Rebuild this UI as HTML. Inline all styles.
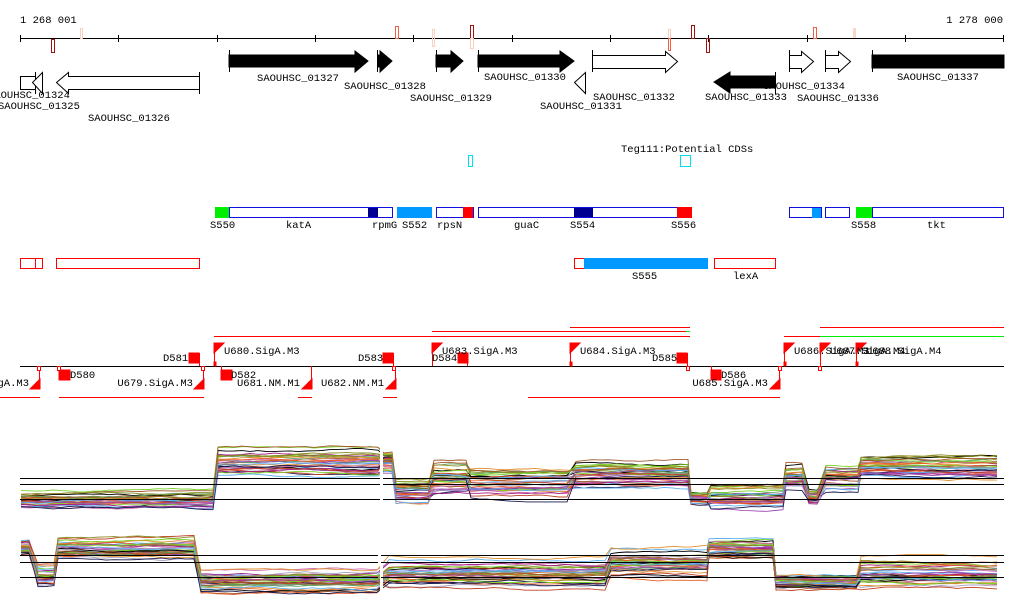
<!DOCTYPE html>
<html><head><meta charset="utf-8"><style>
html,body{margin:0;padding:0;background:#fff;}
svg{display:block;}
text{font-family:"Liberation Mono","DejaVu Sans Mono",monospace;font-size:10.5px;fill:#000;}
</style></head><body>
<svg id="s" width="1024" height="611" viewBox="0 0 1024 611" xmlns="http://www.w3.org/2000/svg">
<text x="20" y="23">1 268 001</text>
<text x="1003" y="23" text-anchor="end">1 278 000</text>
<line x1="20" y1="38.5" x2="1004" y2="38.5" stroke="#000"/>
<g stroke="#000">
<line x1="20.5" y1="35" x2="20.5" y2="42"/><line x1="118.5" y1="35" x2="118.5" y2="42"/><line x1="217.5" y1="35" x2="217.5" y2="42"/><line x1="315.5" y1="35" x2="315.5" y2="42"/><line x1="413.5" y1="35" x2="413.5" y2="42"/><line x1="512.5" y1="35" x2="512.5" y2="42"/><line x1="610.5" y1="35" x2="610.5" y2="42"/><line x1="708.5" y1="35" x2="708.5" y2="42"/><line x1="807.5" y1="35" x2="807.5" y2="42"/><line x1="905.5" y1="35" x2="905.5" y2="42"/><line x1="1003.5" y1="35" x2="1003.5" y2="42"/>
</g>
<g fill="none">
<rect x="51.5" y="39.5" width="3" height="13" stroke="#a01010"/>
<rect x="80.5" y="28.5" width="2" height="10" stroke="#f8d0c0"/>
<rect x="395.5" y="26.5" width="3" height="12" stroke="#f06040"/>
<rect x="432.5" y="29.5" width="2" height="17" stroke="#f8d0c0"/>
<rect x="470.5" y="25.5" width="3" height="13" stroke="#a01010"/>
<rect x="470.5" y="38.5" width="3" height="10" stroke="#f8d0c0"/>
<rect x="668.5" y="29.5" width="2" height="9" stroke="#f8d0c0"/>
<rect x="668.5" y="38.5" width="2" height="12" stroke="#f06040"/>
<rect x="691.5" y="25.5" width="3" height="13" stroke="#a01010"/>
<rect x="706.5" y="38.5" width="3" height="14" stroke="#a01010"/>
<rect x="813.5" y="27.5" width="3" height="11" stroke="#f06040"/>
<rect x="853" y="28" width="3" height="10" fill="#f8d8c8"/>
</g>
<g stroke="#000" fill="#000">
<line x1="229.5" y1="50" x2="229.5" y2="72"/>
<polygon points="229,55 355,55 355,51 368,61 355,72 355,67 229,67"/>
<line x1="377.5" y1="50" x2="377.5" y2="72"/>
<polygon points="378,55 380,55 380,51 392,61 380,72 380,67 378,67"/>
<line x1="436.5" y1="50" x2="436.5" y2="72"/>
<polygon points="436,55 451,55 451,51 463,61 451,72 451,67 436,67"/>
<line x1="478.5" y1="50" x2="478.5" y2="72"/>
<polygon points="478,55 560,55 560,51 574,61 560,72 560,67 478,67"/>
<line x1="872.5" y1="50" x2="872.5" y2="72"/>
<rect x="872" y="55" width="132" height="13"/>
</g>
<g stroke="#000" fill="#fff">
<polygon points="585.5,72.5 574.5,82.5 585.5,93.5"/>
<line x1="592.5" y1="50" x2="592.5" y2="72"/>
<polygon points="592.5,55.5 665.5,55.5 665.5,51.5 677.5,61.5 665.5,72.5 665.5,68.5 592.5,68.5"/>
<line x1="789.5" y1="50" x2="789.5" y2="72"/>
<polygon points="789.5,55.5 801.5,55.5 801.5,51.5 813.5,61.5 801.5,72.5 801.5,68.5 789.5,68.5"/>
<line x1="825.5" y1="50" x2="825.5" y2="72"/>
<polygon points="825.5,55.5 838.5,55.5 838.5,51.5 850.5,61.5 838.5,72.5 838.5,68.5 825.5,68.5"/>
<rect x="20.5" y="76.5" width="15" height="13"/>
<line x1="35.5" y1="72" x2="35.5" y2="94"/>
<polygon points="42.5,72.5 32.5,82.5 42.5,93.5"/>
<line x1="199.5" y1="72" x2="199.5" y2="94"/>
<polygon points="199.5,76.5 68.5,76.5 68.5,72.5 56.5,82.5 68.5,93.5 68.5,89.5 199.5,89.5"/>
</g>
<text x="298" y="81" text-anchor="middle">SAOUHSC_01327</text>
<text x="344" y="89">SAOUHSC_01328</text>
<text x="410" y="101">SAOUHSC_01329</text>
<text x="484" y="80">SAOUHSC_01330</text>
<text x="540" y="109">SAOUHSC_01331</text>
<text x="593" y="100">SAOUHSC_01332</text>
<text x="763" y="89">SAOUHSC_01334</text>
<text x="797" y="101">SAOUHSC_01336</text>
<text x="897" y="80">SAOUHSC_01337</text>
<text x="705" y="100">SAOUHSC_01333</text>
<text x="-12" y="98">SAOUHSC_01324</text>
<text x="-2" y="109">SAOUHSC_01325</text>
<text x="88" y="121">SAOUHSC_01326</text>
<g stroke="#000" fill="#000">
<line x1="775.5" y1="72" x2="775.5" y2="94"/>
<polygon points="775,76 730,76 730,72 714,82 730,93 730,88 775,88"/>
</g>
<text x="621" y="152">Teg111:Potential CDSs</text>
<rect x="468.5" y="155.5" width="4" height="11" fill="none" stroke="#00e0f0"/>
<rect x="680.5" y="155.5" width="10" height="11" fill="none" stroke="#00e0f0"/>
<g stroke="#1010e0" fill="#fff">
<rect x="229.5" y="207.5" width="163" height="10"/>
<rect x="436.5" y="207.5" width="37" height="10"/>
<rect x="478.5" y="207.5" width="212" height="10"/>
<rect x="789.5" y="207.5" width="32" height="10"/>
<rect x="825.5" y="207.5" width="24" height="10"/>
<rect x="872.5" y="207.5" width="131" height="10"/>
</g>
<rect x="215" y="207" width="14" height="11" fill="#00ee00"/>
<rect x="368" y="208" width="10" height="9" fill="#000090"/>
<rect x="397" y="207" width="35" height="11" fill="#0099ff"/>
<rect x="463" y="207" width="10" height="11" fill="#ff0000"/>
<rect x="574" y="208" width="19" height="9" fill="#000090"/>
<rect x="677" y="207" width="15" height="11" fill="#ff0000"/>
<rect x="812" y="208" width="9" height="10" fill="#0099ff"/>
<rect x="856" y="207" width="16" height="11" fill="#00ee00"/>
<text x="210" y="228">S550</text><text x="286" y="228">katA</text><text x="372" y="228">rpmG</text><text x="402" y="228">S552</text><text x="437" y="228">rpsN</text><text x="514" y="228">guaC</text><text x="570" y="228">S554</text><text x="671" y="228">S556</text><text x="851" y="228">S558</text><text x="927" y="228">tkt</text>
<g stroke="#ff0000" fill="none">
<rect x="20.5" y="258.5" width="22" height="10"/><line x1="35.5" y1="258" x2="35.5" y2="268"/>
<rect x="56.5" y="258.5" width="143" height="10"/>
<rect x="574.5" y="258.5" width="10" height="10"/>
<rect x="714.5" y="258.5" width="61" height="10"/>
</g>
<rect x="584" y="258" width="124" height="11" fill="#0099ff"/>
<text x="632" y="279">S555</text><text x="733" y="279">lexA</text>
<g stroke="#ff0000" stroke-width="1">
<line x1="214" y1="336.5" x2="690" y2="336.5"/>
<line x1="432" y1="331.5" x2="690" y2="331.5"/>
<line x1="570" y1="327.5" x2="690" y2="327.5"/>
<line x1="784" y1="336.5" x2="820" y2="336.5"/>
<line x1="820" y1="327.5" x2="1004" y2="327.5"/>
<line x1="0" y1="397.5" x2="40" y2="397.5"/>
<line x1="59" y1="397.5" x2="204" y2="397.5"/>
<line x1="298" y1="397.5" x2="312" y2="397.5"/>
<line x1="383" y1="397.5" x2="397" y2="397.5"/>
<line x1="528" y1="397.5" x2="780" y2="397.5"/>
</g>
<line x1="820" y1="336.5" x2="1004" y2="336.5" stroke="#00ee00"/>
<line x1="686" y1="331.5" x2="690" y2="331.5" stroke="#00ee00"/>
<line x1="20" y1="366.5" x2="1004" y2="366.5" stroke="#000"/>
<g fill="#ff0000" stroke="#ff0000">
<path d="M214.5,366 V343 M214,343 h10 l-10,10z"/><rect x="214" y="362" width="2" height="4"/>
<path d="M432.5,366 V343 M432,343 h10 l-10,10z"/>
<path d="M570.5,366 V343 M570,343 h10 l-10,10z"/><rect x="570" y="362" width="2" height="4"/>
<path d="M784.5,366 V343 M784,343 h10 l-10,10z"/><rect x="784" y="362" width="2" height="4"/>
<path d="M820.5,366 V343 M820,343 h10 l-10,10z"/>
<path d="M856.5,366 V343 M856,343 h10 l-10,10z"/><rect x="856" y="362" width="2" height="4"/>
<path d="M39.5,366 V389 M40,389 h-10 l10,-10z"/>
<path d="M203.5,366 V389 M204,389 h-10 l10,-10z"/>
<path d="M311.5,366 V389 M312,389 h-10 l10,-10z"/>
<path d="M395.5,366 V389 M396,389 h-10 l10,-10z"/>
<path d="M779.5,366 V389 M780,389 h-10 l10,-10z"/>
<rect x="189" y="353" width="10" height="10"/><line x1="199.5" y1="353" x2="199.5" y2="366"/>
<rect x="383" y="353" width="10" height="10"/><line x1="393.5" y1="353" x2="393.5" y2="366"/>
<rect x="458" y="353" width="10" height="10"/><line x1="467.5" y1="353" x2="467.5" y2="366"/>
<rect x="677" y="353" width="10" height="10"/><line x1="687.5" y1="353" x2="687.5" y2="366"/>
<rect x="59" y="370" width="11" height="10"/><line x1="59.5" y1="366" x2="59.5" y2="372"/>
<rect x="221" y="370" width="11" height="10"/><line x1="221.5" y1="366" x2="221.5" y2="372"/>
<rect x="711" y="370" width="10" height="10"/><line x1="711.5" y1="366" x2="711.5" y2="372"/>
</g>
<g fill="#fff" stroke="#ff0000">
<rect x="37.5" y="366.5" width="3" height="4"/><rect x="57.5" y="366.5" width="3" height="4"/><rect x="201.5" y="366.5" width="3" height="4"/><rect x="392.5" y="366.5" width="3" height="4"/><rect x="686.5" y="366.5" width="3" height="4"/><rect x="778.5" y="366.5" width="3" height="4"/><rect x="818.5" y="366.5" width="3" height="4"/>
</g>
<text x="224" y="354">U680.SigA.M3</text>
<text x="442" y="354">U683.SigA.M3</text>
<text x="580" y="354">U684.SigA.M3</text>
<text x="794" y="354">U686.SigA.M3</text>
<text x="830" y="354">U687.SigA.M4</text>
<text x="866" y="354">U688.SigA.M4</text>
<text x="163" y="361">D581</text><text x="358" y="361">D583</text><text x="432" y="361">D584</text><text x="652" y="361">D585</text>
<text x="70" y="378">D580</text><text x="231" y="378">D582</text><text x="721" y="378">D586</text>
<text x="29" y="386" text-anchor="end">SigA.M3</text>
<text x="193" y="386" text-anchor="end">U679.SigA.M3</text>
<text x="300" y="386" text-anchor="end">U681.NM.M1</text>
<text x="384" y="386" text-anchor="end">U682.NM.M1</text>
<text x="768" y="386" text-anchor="end">U685.SigA.M3</text>
<g id="plots"></g>
<g stroke="#000">
<line x1="20" y1="478.5" x2="380" y2="478.5"/><line x1="383" y1="478.5" x2="1004" y2="478.5"/>
<line x1="20" y1="484.5" x2="380" y2="484.5"/><line x1="383" y1="484.5" x2="1004" y2="484.5"/>
<line x1="20" y1="499.5" x2="380" y2="499.5"/><line x1="383" y1="499.5" x2="1004" y2="499.5"/>
<line x1="20" y1="555.5" x2="378" y2="555.5"/><line x1="381" y1="555.5" x2="1004" y2="555.5"/>
<line x1="20" y1="562.5" x2="378" y2="562.5"/><line x1="381" y1="562.5" x2="1004" y2="562.5"/>
<line x1="20" y1="577.5" x2="378" y2="577.5"/><line x1="381" y1="577.5" x2="1004" y2="577.5"/>
</g>
</svg>
<script>
(function(){
var seed=12345;function rnd(){seed=(seed*1103515245+12345)&0x7fffffff;return seed/0x7fffffff;}
var cols=["#e8602c","#8a8a20","#9a4db0","#7ad12a","#5ab0f0","#a05a2c","#d070b0","#a0208a","#a0a0c0","#000","#1a1a50","#c04020","#e09030","#60a060"];
var p1=[[20,217,490,510],[217,380,445,478],[383,395,445,475],[395,433,475,505],[433,470,452,500],[470,575,462,500],[575,690,458,490],[690,710,490,505],[710,785,482,510],[785,808,458,490],[808,825,487,505],[825,860,460,492],[860,1004,450,480]];
var p2=[[20,37,540,555],[37,57,563,590],[57,200,535,560],[200,380,565,595],[380,610,555,590],[610,708,545,580],[708,775,535,560],[775,860,572,590],[860,1004,555,592]];
var g=document.getElementById("plots"),ns="http://www.w3.org/2000/svg";
function draw(segs,gap){
 for(var i=0;i<34;i++){
  var c=cols[i%cols.length],pts=[],base=rnd();
  for(var s=0;s<segs.length;s++){
   var sg=segs[s];
   var r=Math.min(1,Math.max(0,base*0.6+rnd()*0.4));
   var b=sg[2]+r*(sg[3]-sg[2]),off=0;
   for(var x=sg[0]+1;x<=sg[1]-1;x+=8){
     if(x>gap-1&&x<gap+4)continue;
     off+= (rnd()-0.5)*2; if(off>3)off=3; if(off<-3)off=-3;
     pts.push(x+","+(b+off).toFixed(1));
   }
  }
  var pl=document.createElementNS(ns,"polyline");
  pl.setAttribute("points",pts.join(" "));pl.setAttribute("fill","none");
  pl.setAttribute("stroke",c);pl.setAttribute("stroke-width","0.9");
  g.appendChild(pl);
 }
}
draw(p1,380);draw(p2,378);
var w=document.createElementNS(ns,"rect");w.setAttribute("x","380");w.setAttribute("y","440");w.setAttribute("width","3");w.setAttribute("height","160");w.setAttribute("fill","#fff");g.appendChild(w);
})();
</script>
</body></html>
